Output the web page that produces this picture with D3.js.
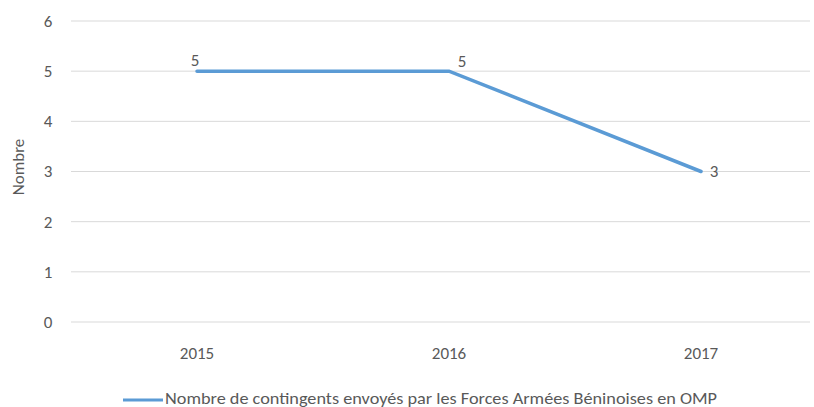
<!DOCTYPE html>
<html><head><meta charset="utf-8">
<script src="https://cdn.jsdelivr.net/npm/d3@7"></script>
<style>body{margin:0;background:#fff}svg{display:block}text{font-family:Carlito,Lato,"Open Sans",sans-serif;fill:#595959}</style>
</head><body>
<svg id="c" width="814" height="407"></svg>
<script>
const years = ["2015","2016","2017"];
const values = [5,5,3];
const yTicks = [0,1,2,3,4,5,6];
const seriesName = "Nombre de contingents envoyés par les Forces Armées Béninoises en OMP";
const yTitle = "Nombre";

(function(){
const svg = d3.select("#c");
const pLeft = 71, gridRight = 810, pTop = 21, pBottom = 322;
const x = d3.scaleBand().domain(years).range([pLeft, 827]);
const y = d3.scaleLinear().domain([0,6]).range([pBottom, pTop]);
const fs = "17px";

svg.append("g").selectAll("line").data(yTicks).join("line")
  .attr("x1", pLeft).attr("x2", gridRight)
  .attr("y1", d => y(d)).attr("y2", d => y(d))
  .attr("stroke", "#d9d9d9").attr("stroke-width", 1);

svg.append("g").selectAll("text").data(yTicks).join("text")
  .attr("x", 48).attr("y", d => y(d)).attr("dy", "0.35em")
  .attr("text-anchor", "middle").style("font-size", fs).text(d => d);

svg.append("g").selectAll("text").data(years).join("text")
  .attr("x", d => x(d) + x.bandwidth()/2).attr("y", 353).attr("dy", "0.35em")
  .attr("text-anchor", "middle").style("font-size", fs).text(d => d);

svg.append("text").attr("transform", `translate(18,167) rotate(-90)`)
  .attr("text-anchor", "middle").attr("dy", "0.35em").style("font-size", fs).text(yTitle);

const cx = (d,i) => x(years[i]) + x.bandwidth()/2;
const line = d3.line().x((d,i) => cx(d,i)).y(d => y(d));
svg.append("path").datum(values).attr("d", line)
  .attr("fill", "none").attr("stroke", "#5b9bd5").attr("stroke-width", 3.5).attr("stroke-linecap","round");

const offs = [[-2,-11],[13,-10],[13,0]];
svg.append("g").selectAll("text").data(values).join("text")
  .attr("x", (d,i) => cx(d,i) + offs[i][0]).attr("y", (d,i) => y(d) + offs[i][1]).attr("dy", "0.35em")
  .attr("text-anchor", "middle").style("font-size", fs).text(d => d);

svg.append("line").attr("x1", 123).attr("x2", 163).attr("y1", 400).attr("y2", 400)
  .attr("stroke", "#5b9bd5").attr("stroke-width", 3);
svg.append("text").attr("x", 165).attr("y", 398).attr("dy", "0.35em")
  .attr("textLength", 552).attr("lengthAdjust", "spacingAndGlyphs")
  .style("font-size", "16px").text(seriesName);
})();
</script>
</body></html>
